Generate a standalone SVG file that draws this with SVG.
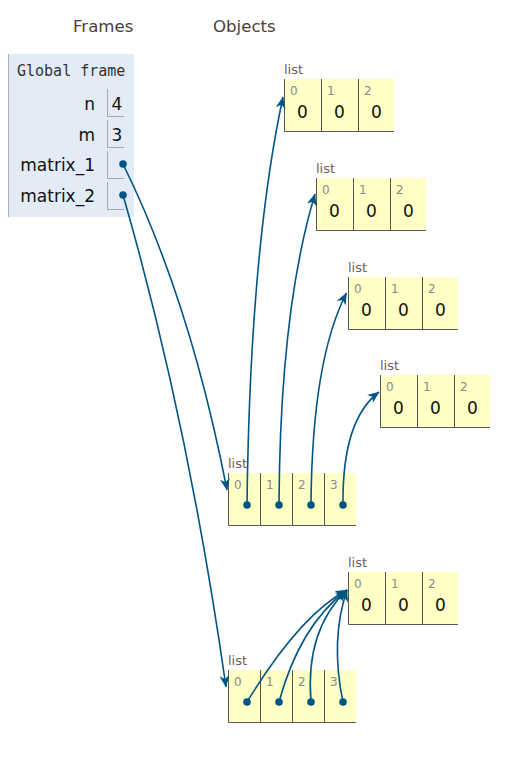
<svg xmlns="http://www.w3.org/2000/svg" width="508" height="759" viewBox="0 0 508 759">
<style>
text{font-family:"DejaVu Sans","Liberation Sans",sans-serif}
.hdr{font-size:16.6px;fill:#4b4038}
.frm{font-family:"DejaVu Sans Mono","Liberation Mono",monospace;font-size:15px;fill:#333}
.var{font-size:17px;fill:#111;text-anchor:end}
.val{font-size:17px;fill:#111;text-anchor:middle}
.typ{font-size:13px;fill:#6b6158}
.idx{font-size:12px;fill:#8a8a8a}
.cell{fill:#ffffc6}
.bd{stroke:#555;stroke-width:1;fill:none}
.vb{stroke:#a8a8a8;stroke-width:1;fill:none}
.dot{fill:#005583}
.cn{fill:none;stroke:#005583;stroke-width:1.6;marker-end:url(#ah)}
</style>
<defs>
<marker id="ah" markerUnits="userSpaceOnUse" viewBox="0 0 12 10" refX="11.5" refY="5" markerWidth="12" markerHeight="10" orient="auto">
<path d="M0,0 L12,5 L0,10 L3.5,5 z" fill="#005583"/>
</marker>
</defs>
<rect width="508" height="759" fill="#fff"/>
<text class="hdr" x="73" y="32">Frames</text>
<text class="hdr" x="213" y="32">Objects</text>

<g id="global-frame">
<rect x="8" y="54" width="126" height="163" fill="#e2ebf6"/>
<line x1="8.5" y1="54" x2="8.5" y2="217" stroke="#a8b0b8"/>
<text class="frm" x="17" y="76">Global frame</text>
<text class="var" x="95" y="110">n</text>
<path class="vb" d="M107.5,89 V116.5 H124"/>
<text class="val" x="117" y="110">4</text>
<text class="var" x="95" y="141">m</text>
<path class="vb" d="M107.5,120 V147.5 H124"/>
<text class="val" x="117" y="141">3</text>
<text class="var" x="95" y="171">matrix_1</text>
<path class="vb" d="M107.5,151 V178.5 H124"/>
<circle class="dot" cx="123" cy="164" r="3.8"/>
<text class="var" x="95" y="202">matrix_2</text>
<path class="vb" d="M107.5,182 V209.5 H124"/>
<circle class="dot" cx="123" cy="195" r="3.8"/>
</g>

<g id="list-a">
<text class="typ" x="284" y="74">list</text>
<rect class="cell" x="284" y="79" width="110" height="53"/>
<path class="bd" d="M284.5,79 V131.5 H394 M321.5,79 V131.5 M358.5,79 V131.5"/>
<text class="idx" x="290" y="95">0</text><text class="idx" x="327" y="95">1</text><text class="idx" x="364" y="95">2</text>
<text class="val" x="302.5" y="118">0</text><text class="val" x="339.5" y="118">0</text><text class="val" x="376.5" y="118">0</text>
</g>

<g id="list-b">
<text class="typ" x="316" y="173">list</text>
<rect class="cell" x="316" y="178" width="110" height="53"/>
<path class="bd" d="M316.5,178 V230.5 H426 M353.5,178 V230.5 M390.5,178 V230.5"/>
<text class="idx" x="322" y="194">0</text><text class="idx" x="359" y="194">1</text><text class="idx" x="396" y="194">2</text>
<text class="val" x="334.5" y="217">0</text><text class="val" x="371.5" y="217">0</text><text class="val" x="408.5" y="217">0</text>
</g>

<g id="list-c">
<text class="typ" x="348" y="272">list</text>
<rect class="cell" x="348" y="277" width="110" height="53"/>
<path class="bd" d="M348.5,277 V329.5 H458 M385.5,277 V329.5 M422.5,277 V329.5"/>
<text class="idx" x="354" y="293">0</text><text class="idx" x="391" y="293">1</text><text class="idx" x="428" y="293">2</text>
<text class="val" x="366.5" y="316">0</text><text class="val" x="403.5" y="316">0</text><text class="val" x="440.5" y="316">0</text>
</g>

<g id="list-d">
<text class="typ" x="380" y="370">list</text>
<rect class="cell" x="380" y="375" width="110" height="53"/>
<path class="bd" d="M380.5,375 V427.5 H490 M417.5,375 V427.5 M454.5,375 V427.5"/>
<text class="idx" x="386" y="391">0</text><text class="idx" x="423" y="391">1</text><text class="idx" x="460" y="391">2</text>
<text class="val" x="398.5" y="414">0</text><text class="val" x="435.5" y="414">0</text><text class="val" x="472.5" y="414">0</text>
</g>

<g id="list-e">
<text class="typ" x="348" y="567">list</text>
<rect class="cell" x="348" y="572" width="110" height="53"/>
<path class="bd" d="M348.5,572 V624.5 H458 M385.5,572 V624.5 M422.5,572 V624.5"/>
<text class="idx" x="354" y="588">0</text><text class="idx" x="391" y="588">1</text><text class="idx" x="428" y="588">2</text>
<text class="val" x="366.5" y="611">0</text><text class="val" x="403.5" y="611">0</text><text class="val" x="440.5" y="611">0</text>
</g>

<g id="matrix-1-list">
<text class="typ" x="228" y="468">list</text>
<rect class="cell" x="228" y="473" width="128" height="53"/>
<path class="bd" d="M228.5,473 V525.5 H356 M260.5,473 V525.5 M292.5,473 V525.5 M324.5,473 V525.5"/>
<text class="idx" x="234" y="489">0</text><text class="idx" x="266" y="489">1</text><text class="idx" x="298" y="489">2</text><text class="idx" x="330" y="489">3</text>
<circle class="dot" cx="247" cy="505" r="3.8"/><circle class="dot" cx="279" cy="505" r="3.8"/><circle class="dot" cx="311" cy="505" r="3.8"/><circle class="dot" cx="343" cy="505" r="3.8"/>
</g>

<g id="matrix-2-list">
<text class="typ" x="228" y="665">list</text>
<rect class="cell" x="228" y="670" width="128" height="53"/>
<path class="bd" d="M228.5,670 V722.5 H356 M260.5,670 V722.5 M292.5,670 V722.5 M324.5,670 V722.5"/>
<text class="idx" x="234" y="686">0</text><text class="idx" x="266" y="686">1</text><text class="idx" x="298" y="686">2</text><text class="idx" x="330" y="686">3</text>
<circle class="dot" cx="247" cy="702" r="3.8"/><circle class="dot" cx="279" cy="702" r="3.8"/><circle class="dot" cx="311" cy="702" r="3.8"/><circle class="dot" cx="343" cy="702" r="3.8"/>
</g>

<g id="connectors">
<path class="cn" d="M123,164 Q190,300 227,490"/>
<path class="cn" d="M123,195 Q188,420 226,687"/>
<path class="cn" d="M247,505 Q250,250 283,97"/>
<path class="cn" d="M279,505 Q280,310 315,194"/>
<path class="cn" d="M311,505 Q312,360 346.5,293"/>
<path class="cn" d="M343,505 Q342,420 379,392"/>
<path class="cn" d="M247,702 Q300,615 347,590"/>
<path class="cn" d="M279,702 Q300,625 347,590"/>
<path class="cn" d="M311,702 Q305,630 347,590"/>
<path class="cn" d="M343,702 Q330,640 347,590"/>
</g>
</svg>
